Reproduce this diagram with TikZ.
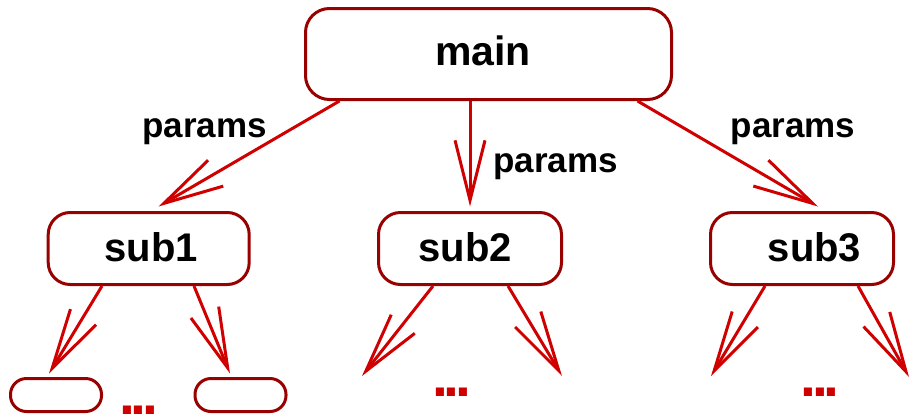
\documentclass[tikz,border=0pt]{standalone}
\usepackage{fontspec}
\setmainfont{Liberation Sans}
\usetikzlibrary{arrows.meta}
\definecolor{boxred}{HTML}{990000}
\definecolor{arrred}{HTML}{D00000}
\tikzset{
  box/.style={draw=boxred, line width=3pt, rounded corners=24pt, fill=white, inner sep=0pt},
  smallbox/.style={draw=boxred, line width=3pt, rounded corners=16pt, fill=white, inner sep=0pt, minimum width=91pt, minimum height=33pt},
  boxtext/.style={font=\bfseries\fontsize{40}{46}\selectfont, inner sep=0pt, anchor=base},
  lbl/.style={font=\bfseries\fontsize{35}{40}\selectfont, inner sep=0pt, anchor=base},
  arr/.style={draw=arrred, line width=3pt, -{Straight Barb[length=60pt, width=30pt, line width=3pt]}},
  dotsty/.style={text=arrred, font=\bfseries\fontsize{57}{60}\selectfont, inner sep=0pt, anchor=base}
}
\newcommand{\mydots}{.\kern-4.3pt.\kern-4.3pt.}
\begin{document}
\begin{tikzpicture}[x=1pt, y=-1pt]
\useasboundingbox (0,0) rectangle (909,418);
% boxes
\node[box, minimum width=366pt, minimum height=91pt] (main) at (488.5,54) {};
\node[box, rounded corners=22pt, minimum width=201pt, minimum height=72pt] (sub1) at (148.7,248.5) {};
\node[box, rounded corners=22pt, minimum width=183pt, minimum height=72pt] (sub2) at (470,248.5) {};
\node[box, rounded corners=22pt, minimum width=183pt, minimum height=72pt] (sub3) at (802,248.5) {};
\node[smallbox] (leaf1) at (56,395) {};
\node[smallbox] (leaf2) at (240.5,395) {};
% texts
\node[boxtext, font=\bfseries\fontsize{41}{46}\selectfont] (mainT) at (483,65) {main};
\node[boxtext] (sub1T) at (151,261) {sub1};
\node[boxtext] (sub2T) at (465,261) {sub2};
\node[boxtext] (sub3T) at (814.5,261) {sub3};
\node[lbl] (p1) at (204.5,137) {params};
\node[lbl] (p2) at (555.5,172) {params};
\node[lbl] (p3) at (793,137) {params};
% free ends
\coordinate (t21) at (362,376);
\coordinate (t22) at (562,376);
\coordinate (t31) at (711,376);
\coordinate (t32) at (909,377);
% arrows from main
\draw[arr] ([xshift=35.5pt]main.south west) -- ([xshift=111.8pt, yshift=4.5pt]sub1.north west);
\draw[arr] ([xshift=-18.5pt]main.south) -- ([yshift=4.5pt]sub2.north);
\draw[arr] ([xshift=-35.5pt]main.south east) -- ([xshift=16pt, yshift=4.5pt]sub3.north);
% arrows from subs
\draw[arr] ([xshift=-46.7pt]sub1.south) -- ([xshift=-7pt, yshift=3.5pt]leaf1.north);
\draw[arr] ([xshift=45.3pt]sub1.south) -- ([xshift=-10.5pt, yshift=3.5pt]leaf2.north);
\draw[arr] ([xshift=-37pt]sub2.south) -- (t21);
\draw[arr] ([xshift=38pt]sub2.south) -- (t22);
\draw[arr] ([xshift=-37pt]sub3.south) -- (t31);
\draw[arr] ([xshift=56pt]sub3.south) -- (t32);
% dots
\node[dotsty] (d1) at (138.5,414) {\mydots};
\node[dotsty] (d2) at (451.5,396) {\mydots};
\node[dotsty] (d3) at (820,396) {\mydots};
\end{tikzpicture}
\end{document}
